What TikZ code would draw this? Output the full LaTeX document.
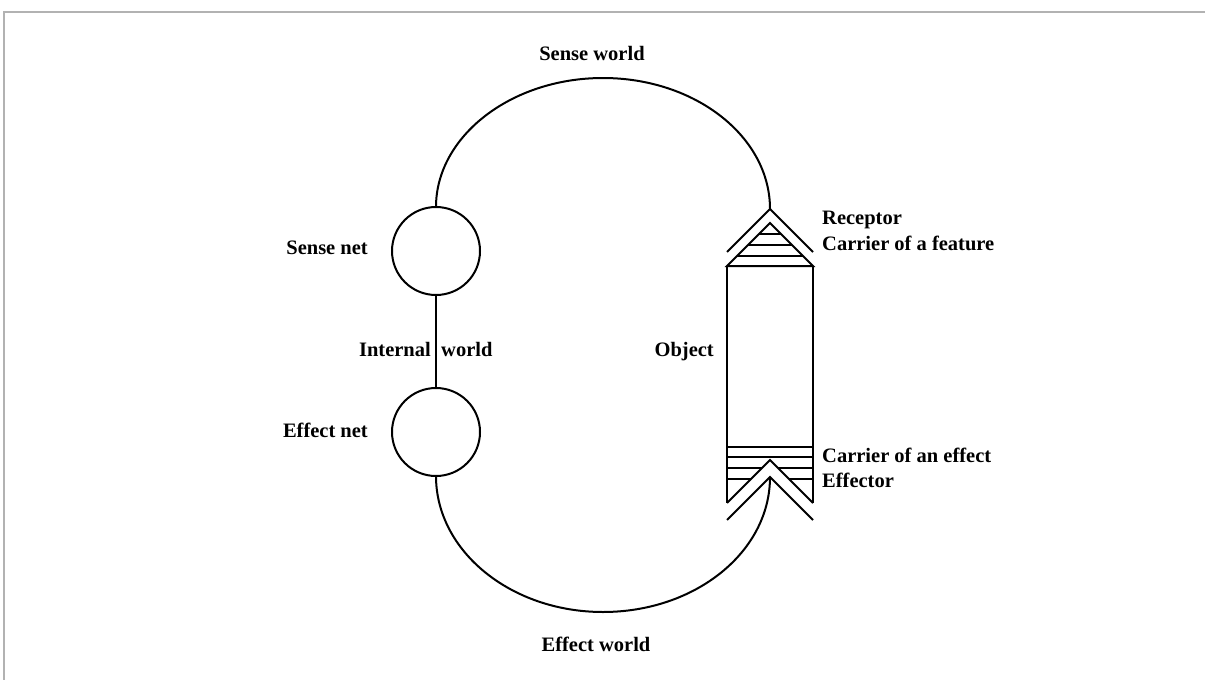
\documentclass[tikz,border=0pt]{standalone}
\usepackage{fontspec}
\setmainfont{Liberation Serif}
\begin{document}
\begin{tikzpicture}[x=1pt,y=-1pt,
  ln/.style={line width=2pt, black},
  netcircle/.style={circle, draw, line width=2pt, minimum size=88pt, inner sep=0pt, outer sep=0pt},
  lbl/.style={inner sep=0pt, font=\fontsize{20.5}{24}\selectfont\bfseries, text height=14pt, text depth=4pt},
  framecol/.style={line width=1.5pt, draw=black!30}
]
\useasboundingbox (0,0) rectangle (1205,680);
\draw[framecol] (4,681) -- (4,12) -- (1206,12);

% circles
\node[netcircle] (sensenet) at (436,251) {};
\node[netcircle] (effectnet) at (436,432) {};
\draw[ln] (sensenet.south) -- (effectnet.north);

% apex coordinates of the object
\coordinate (rapex) at (770,209);
\coordinate (eapex) at (770,477);

% upper (sense world) loop
\draw[ln] (sensenet.north) .. controls (436,136.6) and (510.8,78) .. (603,78)
  .. controls (695.2,78) and (770,136.6) .. (rapex);
% lower (effect world) loop
\draw[ln] (effectnet.south) .. controls (436,551.1) and (510.8,612) .. (603,612)
  .. controls (695.2,612) and (770,552) .. (eapex);

% object: receptor chevron
\draw[ln] (727,252) -- (rapex) -- (813,252);
% roof (carrier of a feature)
\draw[ln] (727,266) -- (770,223) -- (813,266) -- cycle;
\draw[ln] (759,234) -- (781,234);
\draw[ln] (748,245) -- (792,245);
\draw[ln] (737,256) -- (803,256);
% body
\draw[ln] (727,266) -- (727,503);
\draw[ln] (813,266) -- (813,503);
% carrier of an effect
\draw[ln] (727,447) -- (813,447);
\draw[ln] (727,457) -- (813,457);
\draw[ln] (727,468) -- (762,468);
\draw[ln] (778,468) -- (813,468);
\draw[ln] (727,479) -- (751,479);
\draw[ln] (789,479) -- (813,479);
\draw[ln] (727,503) -- (770,460) -- (813,503);
% effector chevron
\draw[ln] (727,520) -- (eapex) -- (813,520);

% labels
\node[lbl] (tsw) at (592,55) {Sense world};
\node[lbl, anchor=east] (tsn) at (368,249) {Sense net};
\node[lbl, anchor=east] (tin) at (431,351) {Internal};
\node[lbl, anchor=west] (tww) at (441,351) {world};
\node[lbl, anchor=east] (ten) at (368,432) {Effect net};
\node[lbl, anchor=east] (tob) at (714,351) {Object};
\node[lbl, anchor=west] (trc) at (822,219) {Receptor};
\node[lbl, anchor=west] (tcf) at (822,245) {Carrier of a feature};
\node[lbl, anchor=west] (tce) at (822,457) {Carrier of an effect};
\node[lbl, anchor=west] (tef) at (822,482) {Effector};
\node[lbl] (tew) at (596,646) {Effect world};
\end{tikzpicture}
\end{document}
